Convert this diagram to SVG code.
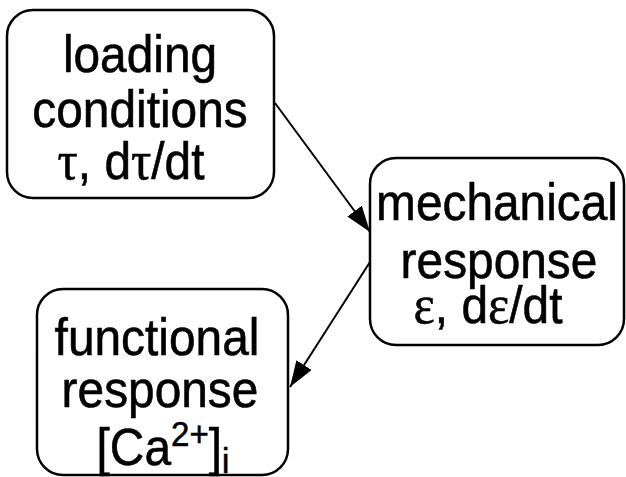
<svg xmlns="http://www.w3.org/2000/svg" width="626" height="477" viewBox="0 0 626 477">
<defs>
<style>
.box{fill:#fff;stroke:#000;stroke-width:2.5}
.t{font-family:"Liberation Sans",Arial,sans-serif;font-size:52px;fill:#000;stroke:#000;stroke-width:0.6;text-anchor:middle}
.g{font-family:"Liberation Serif","Times New Roman",serif;font-size:55px}
.c{stroke:#000;stroke-width:2;fill:none}
</style>
<marker id="ah" markerUnits="userSpaceOnUse" markerWidth="27" markerHeight="18" refX="26" refY="9" orient="auto">
<path d="M0,0 L26,9 L0,18 z" fill="#000"/>
</marker>
</defs>
<rect width="626" height="477" fill="#fff"/>
<g id="connectors">
<line class="c" x1="275" y1="103" x2="370" y2="232" marker-end="url(#ah)"/>
<line class="c" x1="370" y1="262" x2="290" y2="387" marker-end="url(#ah)"/>
</g>
<g id="loading">
<rect class="box" x="7" y="10" width="267" height="188" rx="26"/>
<g transform="translate(140,0) scale(0.92,1)"><text class="t" x="0" y="72">loading</text></g>
<g transform="translate(140,0) scale(0.92,1)"><text class="t" x="0" y="127">conditions</text></g>
<g transform="translate(131,0) scale(0.92,1)"><text class="t" x="0" y="179"><tspan class="g">τ</tspan>,  d<tspan class="g">τ</tspan>/dt</text></g>
</g>
<g id="mechanical">
<rect class="box" x="370" y="158" width="254" height="187" rx="26"/>
<g transform="translate(497,0) scale(0.92,1)"><text class="t" x="0" y="220">mechanical</text></g>
<g transform="translate(499,0) scale(0.92,1)"><text class="t" x="0" y="278">response</text></g>
<g transform="translate(488,0) scale(0.92,1)"><text class="t" x="0" y="323"><tspan class="g">ε</tspan>, d<tspan class="g">ε</tspan>/dt</text></g>
</g>
<g id="functional">
<rect class="box" x="37" y="289" width="251" height="186" rx="26"/>
<g transform="translate(157,0) scale(0.92,1)"><text class="t" x="0" y="355">functional</text></g>
<g transform="translate(160,0) scale(0.92,1)"><text class="t" x="0" y="407">response</text></g>
<g transform="translate(163,0) scale(0.92,1)"><text class="t" x="0" y="465">[Ca<tspan font-size="36" dy="-19">2+</tspan><tspan dy="19">]</tspan><tspan font-size="36" dy="8">i</tspan></text></g>
</g>
</svg>
